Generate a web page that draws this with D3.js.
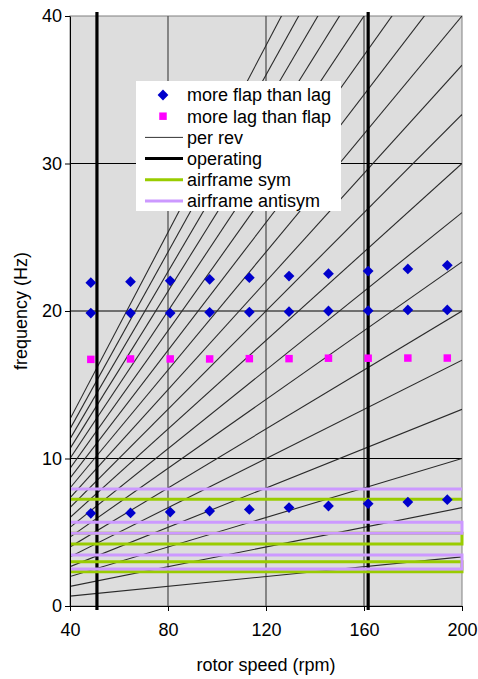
<!DOCTYPE html>
<html>
<head>
<meta charset="utf-8">
<script src="https://cdn.jsdelivr.net/npm/d3@7"></script>
<style>
  html, body { margin: 0; padding: 0; background: #fff; }
  svg { display: block; }
  text { font-family: "Liberation Sans", Arial, sans-serif; }
</style>
</head>
<body>
<svg id="chart" width="478" height="679"></svg>
<script>
// ---------- data ----------
const xTicks = [40, 80, 120, 160, 200];
const yTicks = [0, 10, 20, 30, 40];

const rotorSpeed = [48.5, 64.7, 80.9, 97.0, 113.2, 129.4, 145.5, 161.7, 177.9, 194.0];
const flapUpper  = [21.92, 21.99, 22.05, 22.15, 22.26, 22.37, 22.53, 22.71, 22.85, 23.10];
const flapMiddle = [19.86, 19.86, 19.86, 19.91, 19.93, 19.95, 20.00, 20.02, 20.07, 20.07];
const flapLower  = [6.28, 6.31, 6.37, 6.44, 6.55, 6.67, 6.78, 6.94, 7.05, 7.21];
const lagModes   = [16.72, 16.75, 16.75, 16.75, 16.77, 16.77, 16.80, 16.80, 16.81, 16.81];

// per rev lines: frequency (Hz) at 40 rpm and at 200 rpm, orders 1..19
const perRevSpeeds = [40, 200];
const perRevAt40  = [0.67, 1.33, 2.00, 2.67, 3.33, 4.00, 4.67, 5.33, 6.00, 6.67, 7.33, 8.00, 8.67, 9.33, 10.00, 10.67, 11.33, 12.00, 12.67];
const perRevAt200 = [3.33, 6.67, 10.00, 13.33, 16.67, 20.00, 23.33, 26.67, 30.00, 33.33, 36.67, 40.00, 43.33, 46.67, 50.00, 53.33, 56.67, 60.00, 63.33];

const operatingSpeeds = [51.0, 161.7];
const operatingFreqs  = [0, 40];

// airframe frequency outlines (rpm, Hz)
const airSymPaths = [
  [[40, 7.23], [200, 7.23]],
  [[40, 4.20], [200, 4.20], [200, 4.93], [40, 4.93]],
  [[40, 3.00], [200, 3.00], [200, 2.33], [40, 2.33]]
];
const airAntiPaths = [
  [[40, 7.93], [200, 7.93]],
  [[40, 5.67], [200, 5.67], [200, 4.93], [40, 4.93]],
  [[40, 3.46], [200, 3.46], [200, 2.51], [40, 2.51]]
];

const legendLabels = ["more flap than lag", "more lag than flap", "per rev", "operating", "airframe sym", "airframe antisym"];

// ---------- layout ----------
const svg = d3.select("#chart");
const L = 70, R = 462, T = 16, B = 606;
const x = d3.scaleLinear().domain([40, 200]).range([L, R]);
const y = d3.scaleLinear().domain([0, 40]).range([B, T]);
const FONT = 18;

svg.append("defs").append("clipPath").attr("id", "plotclip")
  .append("rect").attr("x", L).attr("y", T).attr("width", R - L).attr("height", B - T);

// plot background
svg.append("rect").attr("x", L).attr("y", T).attr("width", R - L).attr("height", B - T)
  .attr("fill", "#dddddd").attr("stroke", "#808080").attr("stroke-width", 1);

// gridlines
svg.append("g").selectAll("line").data(xTicks.slice(1, -1)).join("line")
  .attr("x1", d => x(d)).attr("x2", d => x(d)).attr("y1", T).attr("y2", B)
  .attr("stroke", "#555").attr("stroke-width", 1.3);
svg.append("g").selectAll("line").data(yTicks.slice(1, -1)).join("line")
  .attr("x1", L).attr("x2", R).attr("y1", d => y(d)).attr("y2", d => y(d))
  .attr("stroke", "#000").attr("stroke-width", 1);

// per rev lines
const lineGen = d3.line().x(d => x(d[0])).y(d => y(d[1]));
const perRevData = perRevAt40.map((f, i) => [[perRevSpeeds[0], f], [perRevSpeeds[1], perRevAt200[i]]]);
svg.append("g").attr("clip-path", "url(#plotclip)").selectAll("path").data(perRevData).join("path")
  .attr("d", lineGen).attr("fill", "none").attr("stroke", "#2a2a2a").attr("stroke-width", 1.1);

// operating lines
svg.append("g").selectAll("line").data(operatingSpeeds).join("line")
  .attr("x1", d => x(d)).attr("x2", d => x(d))
  .attr("y1", y(operatingFreqs[0]) + 4).attr("y2", y(operatingFreqs[1]) - 4)
  .attr("stroke", "#000").attr("stroke-width", 3.2);

// airframe lines
svg.append("g").selectAll("path").data(airSymPaths).join("path")
  .attr("d", lineGen).attr("fill", "none").attr("stroke", "#99cc00").attr("stroke-width", 3);
svg.append("g").selectAll("path").data(airAntiPaths).join("path")
  .attr("d", lineGen).attr("fill", "none").attr("stroke", "#cc99ff").attr("stroke-width", 3);

// axes
const xAxis = svg.append("g").attr("transform", `translate(0,${B})`)
  .call(d3.axisBottom(x).tickValues(xTicks).tickSize(5).tickSizeOuter(0).tickPadding(12).tickFormat(d3.format("d")));
const yAxis = svg.append("g").attr("transform", `translate(${L},0)`)
  .call(d3.axisLeft(y).tickValues(yTicks).tickSize(5).tickSizeOuter(0).tickPadding(3).tickFormat(d3.format("d")));
[xAxis, yAxis].forEach(a => {
  a.select(".domain").attr("stroke", "#000").attr("stroke-width", 1);
  a.selectAll(".tick line").attr("stroke", "#000");
  a.selectAll(".tick text").attr("fill", "#000").style("font-size", FONT + "px")
    .style("font-family", '"Liberation Sans", Arial, sans-serif');
});

// markers
const diamond = d3.symbol().type(d3.symbolSquare).size(58);
const square = d3.symbol().type(d3.symbolSquare).size(56);
const flapPts = [];
[flapUpper, flapMiddle, flapLower].forEach(arr => arr.forEach((f, i) => flapPts.push([rotorSpeed[i], f])));
svg.append("g").selectAll("path").data(flapPts).join("path")
  .attr("d", diamond).attr("transform", d => `translate(${x(d[0])},${y(d[1])}) rotate(45)`)
  .attr("fill", "#0000cc");
svg.append("g").selectAll("path").data(lagModes).join("path")
  .attr("d", square).attr("transform", (d, i) => `translate(${x(rotorSpeed[i])},${y(d)})`)
  .attr("fill", "#ff00ff");

// axis titles
svg.append("text").attr("x", (L + R) / 2).attr("y", 671).attr("text-anchor", "middle")
  .style("font-size", FONT + "px").text("rotor speed (rpm)");
svg.append("text").attr("transform", `translate(27,${(T + B) / 2}) rotate(-90)`).attr("text-anchor", "middle")
  .style("font-size", FONT + "px").text("frequency (Hz)");

// legend
const lg = svg.append("g");
lg.append("rect").attr("x", 136).attr("y", 81).attr("width", 205).attr("height", 130).attr("fill", "#fff");
const rowY = i => 95 + i * 21.2;
const items = lg.selectAll("g").data(legendLabels).join("g")
  .attr("transform", (d, i) => `translate(0,${rowY(i)})`);
items.append("text").attr("x", 187).attr("y", 0).attr("dy", "0.35em")
  .style("font-size", FONT + "px").text(d => d);
lg.append("path").attr("d", diamond).attr("transform", `translate(163,${rowY(0)}) rotate(45)`).attr("fill", "#0000cc");
lg.append("path").attr("d", square).attr("transform", `translate(163,${rowY(1)})`).attr("fill", "#ff00ff");
const lineStyles = [null, null, ["#333", 1], ["#000", 3], ["#99cc00", 3], ["#cc99ff", 3]];
lineStyles.forEach((s, i) => {
  if (!s) return;
  lg.append("line").attr("x1", 145).attr("x2", 183).attr("y1", rowY(i)).attr("y2", rowY(i))
    .attr("stroke", s[0]).attr("stroke-width", s[1]);
});
</script>
</body>
</html>
